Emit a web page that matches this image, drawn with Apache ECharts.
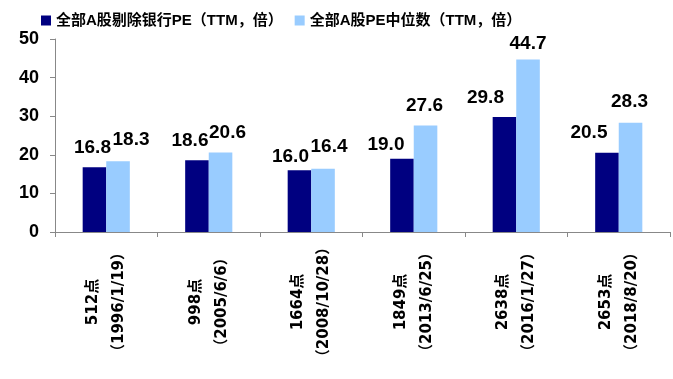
<!DOCTYPE html>
<html><head><meta charset="utf-8">
<script src="https://cdn.jsdelivr.net/npm/echarts@6/dist/echarts.min.js"></script>
<style>html,body{margin:0;padding:0;background:#fff}#c{width:673px;height:379px}</style>
</head><body><div id="c"></div>
<script>
const categories = ["512点\n（1996/1/19）", "998点\n（2005/6/6）", "1664点\n（2008/10/28）", "1849点\n（2013/6/25）", "2638点\n（2016/1/27）", "2653点\n（2018/8/20）"];
const seriesNames = ["全部A股剔除银行PE（TTM，倍）", "全部A股PE中位数（TTM，倍）"];
const exBankPE = [16.8, 18.6, 16.0, 19.0, 29.8, 20.5];
const medianPE = [18.3, 20.6, 16.4, 27.6, 44.7, 28.3];
const yTicks = [0, 10, 20, 30, 40, 50];

// label nudges (styling only), as placed in the original
const darkLabelOffsets = [[-2, 0], [-7, 0], [-9, 6], [-16, 6], [-19, 0], [-18, -1]];
const lightLabelOffsets = [[13, -2], [7, 0], [6, -2], [-1, 0], [0, 4], [-1, -1]];

const FONT = "'Liberation Sans', Arial, 'Noto Sans CJK SC', sans-serif";
const XFONT = "'DejaVu Sans', 'Noto Sans CJK SC', sans-serif";
const chart = echarts.init(document.getElementById('c'));
const labelStyle = {show: true, position: 'top', distance: 10, color: '#000', fontSize: 19, fontWeight: 'bold', fontFamily: FONT, formatter: p => p.value.toFixed(1)};
function withOffsets(values, offs) {
  return values.map((v, i) => ({value: v, label: {offset: offs[i]}}));
}
chart.setOption({
  animation: false,
  textStyle: {fontFamily: FONT},
  legend: {
    top: 8, left: 36, itemWidth: 10, itemHeight: 10, itemGap: 12, icon: 'rect',
    textStyle: {fontSize: 15, fontWeight: 'bold', color: '#000', fontFamily: FONT},
    data: seriesNames
  },
  grid: {left: 55, right: 3, top: 39, bottom: 147},
  xAxis: {
    type: 'category', data: categories,
    axisLine: {lineStyle: {color: '#888'}},
    axisTick: {show: true, length: 5, lineStyle: {color: '#888'}},
    axisLabel: {rotate: 90, align: 'center', verticalAlign: 'middle', margin: 70, interval: 0,
      color: '#000', fontSize: 15, fontWeight: 'bold', lineHeight: 26, fontFamily: XFONT}
  },
  yAxis: {
    type: 'value', min: yTicks[0], max: yTicks[yTicks.length - 1], interval: 10,
    splitLine: {show: false},
    axisLine: {show: true, lineStyle: {color: '#888'}},
    axisTick: {show: true, length: 5, lineStyle: {color: '#888'}},
    axisLabel: {margin: 16, color: '#000', fontSize: 18, fontWeight: 'bold', fontFamily: FONT}
  },
  series: [
    {name: seriesNames[0], type: 'bar', data: withOffsets(exBankPE, darkLabelOffsets), barGap: '0%', barCategoryGap: '54%',
     itemStyle: {color: '#000080'}, label: labelStyle},
    {name: seriesNames[1], type: 'bar', data: withOffsets(medianPE, lightLabelOffsets),
     itemStyle: {color: '#99CCFF'}, label: labelStyle}
  ]
});
</script></body></html>
